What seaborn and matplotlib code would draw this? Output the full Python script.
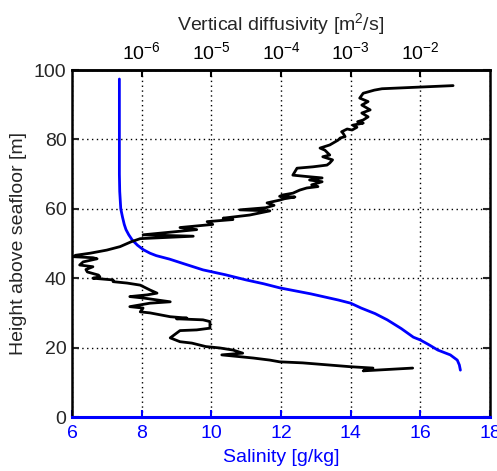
import numpy as np
import pandas as pd
import matplotlib
matplotlib.use("Agg")
import matplotlib.pyplot as plt
import seaborn as sns

# Salinity profile (blue, bottom axis)
sal_height = [97.4, 90, 80, 70, 65, 60, 57.6, 55.5, 54, 52.5, 51, 49.5, 48.2, 47.2, 46.5,
              45.5, 44.2, 42.4, 41.0, 39.5, 38.4, 37.2, 35.5, 33.7, 32.8, 31.4, 29.8, 28.0,
              25.5, 23.0, 22.2, 20.8, 19.3, 17.9, 16.4, 15.0, 13.5]
sal_value = [7.36, 7.36, 7.36, 7.36, 7.37, 7.40, 7.45, 7.50, 7.55, 7.63, 7.73, 7.88, 8.05, 8.24, 8.42,
             8.80, 9.20, 9.76, 10.40, 11.00, 11.50, 11.97, 12.85, 13.65, 14.00, 14.30, 14.70, 15.05,
             15.45, 15.80, 16.00, 16.25, 16.50, 16.86, 17.06, 17.12, 17.15]

# Vertical diffusivity profile (black, top log axis), as log10 of m^2/s
kap_height = [95.5, 94.6, 94.2, 93.3, 91.9, 90.9, 89.9, 88.5, 87.6, 86.5, 85.6, 85.1, 84.7, 84.1,
              83.5, 82.7, 83.0, 82.2, 81.8, 80.8, 80.4, 79.8, 78.4, 77.5, 76.9, 75.5, 75.0, 74.1,
              73.2, 72.6, 72.1, 71.7, 69.7, 69.3, 68.9, 68.3, 67.8, 66.9, 66.4, 66.0, 65.4, 64.5,
              64.0, 63.6, 63.4, 62.9, 62.5, 61.7, 61.0, 60.3, 59.7, 59.4, 58.2, 57.3, 56.9, 56.3,
              55.5, 54.6, 54.0, 52.5, 52.1, 51.4, 50.5, 49.1, 48.1, 47.2, 46.6, 46.2, 45.9, 45.6,
              44.7, 43.8, 43.3, 42.5, 41.8, 40.9, 40.4, 40.0, 39.5, 39.0, 38.6, 38.0, 36.6, 35.7,
              35.2, 34.7, 34.3, 33.2, 32.8, 31.8, 31.4, 30.3, 30.0, 28.9, 28.5, 28.3, 28.0, 27.5,
              25.6, 25.1, 24.9, 22.8, 21.7, 21.3, 20.3, 19.9, 19.3, 18.4, 17.9, 17.0, 16.4, 15.9,
              15.6, 14.5, 14.1, 13.3, 14.1]
kap_log10 = [-1.53, -2.55, -2.66, -2.82, -2.87, -2.75, -2.84, -2.72, -2.84, -2.75, -2.82, -2.90, -2.82, -2.97,
             -2.91, -2.98, -3.05, -3.13, -3.11, -3.08, -3.15, -3.18, -3.30, -3.44, -3.37, -3.30, -3.40, -3.26,
             -3.30, -3.34, -3.54, -3.77, -3.83, -3.63, -3.41, -3.59, -3.41, -3.56, -3.47, -3.63, -3.73, -3.83,
             -3.97, -4.02, -3.80, -3.95, -4.02, -4.20, -4.10, -4.22, -4.59, -4.16, -4.45, -4.83, -4.69, -5.06,
             -4.98, -5.45, -5.21, -5.98, -5.26, -6.02, -6.15, -6.31, -6.50, -6.74, -6.95, -6.98, -6.70, -6.64,
             -6.84, -6.89, -6.70, -6.80, -6.78, -6.62, -6.60, -6.70, -6.41, -6.41, -6.21, -6.02, -5.88, -5.78,
             -5.92, -6.17, -5.98, -5.59, -5.88, -6.17, -5.98, -6.02, -5.88, -5.59, -5.35, -5.50, -5.12, -5.02,
             -5.02, -5.21, -5.45, -5.59, -5.45, -5.28, -5.08, -4.88, -4.69, -4.55, -4.85, -4.40, -4.16, -4.02,
             -3.69, -3.01, -2.68, -2.82, -2.11]

sal_ticks = [6, 8, 10, 12, 14, 16, 18]
kap_ticks = [1e-6, 1e-5, 1e-4, 1e-3, 1e-2]
height_ticks = [0, 20, 40, 60, 80, 100]

sns.set_style("ticks")
plt.rcParams['font.family'] = ['Liberation Sans', 'DejaVu Sans']
plt.rcParams['mathtext.fontset'] = 'custom'
plt.rcParams['mathtext.rm'] = 'Liberation Sans'
plt.rcParams['mathtext.it'] = 'Liberation Sans'

FS = 14

df_sal = pd.DataFrame({"height": sal_height, "salinity": sal_value})
df_kap = pd.DataFrame({"height": kap_height, "kappa": 10.0 ** np.array(kap_log10)})

fig = plt.figure(figsize=(4.97, 4.71), dpi=100)
ax = fig.add_axes([72/497, 54/471, 418/497, 347/471])

sns.lineplot(data=df_sal, x="salinity", y="height", sort=False, estimator=None,
             color="#0000ff", lw=2.0, ax=ax)
ax.set_xlim(6, 18)
ax.set_ylim(0, 100)
ax.set_xticks(sal_ticks)
ax.set_yticks(height_ticks)
ax.grid(True, linestyle=(0, (1, 2.5)), color="black", linewidth=1.0)
ax.set_xlabel("Salinity [g/kg]", color="#0000ff", fontsize=FS, labelpad=5)
ax.set_ylabel("Height above seafloor [m]", fontsize=FS, labelpad=5)
ax.tick_params(axis='x', colors="#0000ff", direction='in', length=5, width=1.5,
               labelsize=FS, pad=6)
ax.tick_params(axis='y', direction='in', length=5, width=1.5, labelsize=FS, pad=4,
               left=True, right=True)
for s in ax.spines.values():
    s.set_linewidth(1.8)
    s.set_color("black")
ax.spines['bottom'].set_color("#0000ff")
ax.spines['bottom'].set_linewidth(2.2)

ax2 = ax.twiny()
sns.lineplot(data=df_kap, x="kappa", y="height", sort=False, estimator=None,
             color="black", lw=2.0, ax=ax2)
ax2.set_xscale("log")
ax2.set_xlim(1e-7, 10**-1.0)
ax2.set_ylim(0, 100)
ax2.set_xticks(kap_ticks)
ax2.xaxis.set_minor_locator(matplotlib.ticker.NullLocator())
ax2.set_xlabel("Vertical diffusivity [m$^2$/s]", fontsize=FS, labelpad=8)
ax2.tick_params(axis='x', direction='in', length=5, width=1.5, labelsize=FS, pad=5, colors="black")
ax2.grid(False)
for s in ax2.spines.values():
    s.set_visible(False)
ax2.spines['top'].set_visible(True)
ax2.spines['top'].set_linewidth(1.8)
ax2.spines['top'].set_color("black")

fig.savefig("out.png", dpi=100)
